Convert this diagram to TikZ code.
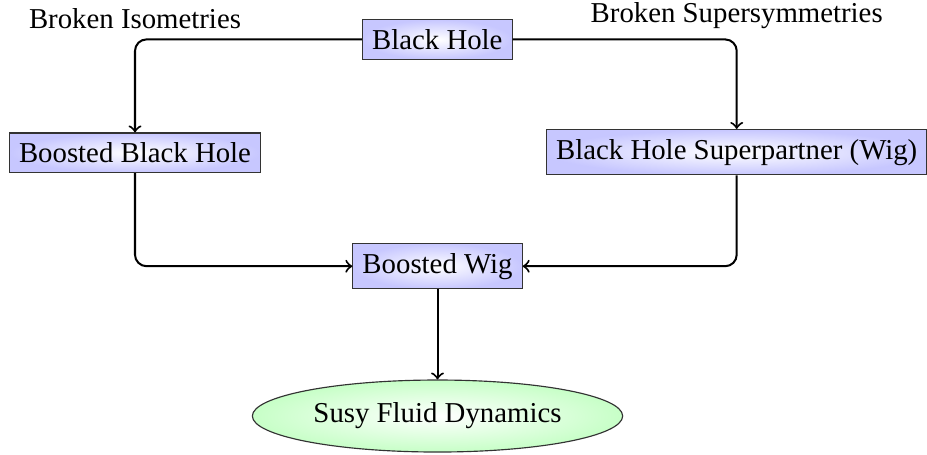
\documentclass[tikz,border=0pt]{standalone}
\usepackage{fontspec}
\setmainfont{Liberation Serif}
\usetikzlibrary{shapes.geometric,arrows}
\tikzset{
  box/.style={draw=black!80, line width=0.4pt, rectangle, shading=radial, inner color=white, outer color=blue!22, font=\fontsize{10}{12}\selectfont},
  oval/.style={draw=black!80, line width=0.4pt, ellipse, shading=radial, inner color=white, outer color=green!22, minimum height=25pt, inner xsep=2.4pt, font=\fontsize{10}{12}\selectfont},
  conn/.style={->, line width=0.7pt, rounded corners=4pt},
  lbl/.style={font=\fontsize{10}{12}\selectfont}
}
\begin{document}
\begin{tikzpicture}[x=0.34722pt, y=-0.34722pt]
\useasboundingbox (0,0) rectangle (927,454);
\node[box] (bh) at (437.3,39.4) {Black Hole};
\node[box] (bbh) at (135,152.7) {Boosted Black Hole};
\node[box] (wig) at (736.7,152.2) {Black Hole Superpartner (Wig)};
\node[box] (bw) at (437.5,266.2) {Boosted Wig};
\node[oval] (sfd) at (437.5,416) {Susy Fluid Dynamics};
\draw[conn] (bh.west) -| node[pos=0.5, above, lbl] {Broken Isometries} (bbh.north);
\draw[conn] (bh.east) -| node[pos=0.5, above, lbl] {Broken Supersymmetries} (wig.north);
\draw[conn] (bbh.south) |- (bw.west);
\draw[conn] (wig.south) |- (bw.east);
\draw[conn] (bw.south) -- (sfd.north);
\end{tikzpicture}
\end{document}
